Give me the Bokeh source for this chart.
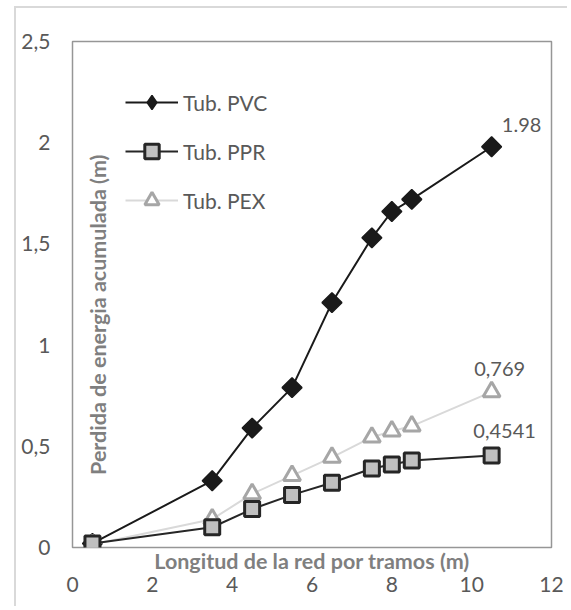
from bokeh.plotting import figure
from bokeh.models import Range1d, FixedTicker, Label, Legend, LegendItem, LinearAxis
from bokeh.core.properties import value
from bokeh.embed import file_html
from bokeh.resources import INLINE
import math

# ---- data ----
longitud = [0.5, 3.5, 4.5, 5.5, 6.5, 7.5, 8.0, 8.5, 10.5]
tub_pvc = [0.02, 0.33, 0.59, 0.79, 1.21, 1.53, 1.66, 1.72, 1.98]
tub_ppr = [0.02, 0.10, 0.19, 0.26, 0.32, 0.39, 0.41, 0.43, 0.4541]
tub_pex = [0.015, 0.14, 0.265, 0.355, 0.445, 0.545, 0.575, 0.60, 0.769]
series_names = ["Tub. PVC", "Tub. PPR", "Tub. PEX"]
end_labels = ["1.98", "0,4541", "0,769"]
x_ticks = [0, 2, 4, 6, 8, 10, 12]
y_ticks = [0, 0.5, 1, 1.5, 2, 2.5]
y_tick_labels = ["0", "0,5", "1", "1,5", "2", "2,5"]
x_title = "Longitud de la red por tramos (m)"
y_title = "Perdida de energia acumulada (m)"

FONT = "Lato"
TICK_COLOR = "#595959"
TITLE_COLOR = "#7f7f7f"

p = figure(width=553, height=600, x_range=Range1d(0, 12), y_range=Range1d(0, 2.5),
           output_backend="svg", toolbar_location=None, x_axis_location=None,
           min_border_left=56, min_border_right=18, min_border_top=33, min_border_bottom=61)
# light gray chart-area border (left and top), as in the original
p.styles = {"margin-left": "14px", "margin-top": "6px",
            "border-left": "2px solid #d9d9d9", "border-top": "2px solid #d9d9d9"}
p.grid.visible = False
p.outline_line_color = "#969696"
p.outline_line_width = 1.5
p.background_fill_color = "white"
p.border_fill_color = "white"

# y axis
p.yaxis.ticker = FixedTicker(ticks=y_ticks)
p.yaxis.major_label_overrides = {t: l for t, l in zip(y_ticks, y_tick_labels)}

# x axis: title sits above the tick labels as in the original
x_title_axis = LinearAxis(ticker=FixedTicker(ticks=[]), axis_label=x_title,
                          axis_label_standoff=0, major_label_standoff=0,
                          axis_label_text_font=FONT, axis_label_text_font_size="21.5px",
                          axis_label_text_font_style="bold", axis_label_text_color=TITLE_COLOR)
p.add_layout(x_title_axis, "below")
x_tick_axis = LinearAxis(ticker=FixedTicker(ticks=x_ticks))
p.add_layout(x_tick_axis, "below")

for ax in (x_title_axis, x_tick_axis, p.yaxis[0]):
    ax.axis_line_color = None
    ax.major_tick_line_color = None
    ax.minor_tick_line_color = None
    ax.major_tick_out = 0
    ax.major_label_text_font = FONT
    ax.major_label_text_font_size = "21px"
    ax.major_label_text_color = TICK_COLOR
x_tick_axis.major_label_standoff = 0
p.yaxis.major_label_standoff = 22

# series
r_pvc_l = p.line(longitud, tub_pvc, line_color="#1a1a1a", line_width=2)
r_pvc_m = p.scatter(longitud, tub_pvc, marker="square", angle=math.pi / 4, size=14,
                    fill_color="#1a1a1a", line_color="#1a1a1a", line_width=1.5)
r_pex_l = p.line(longitud, tub_pex, line_color="#d9d9d9", line_width=2)
r_pex_m = p.scatter(longitud, tub_pex, marker="triangle", size=17,
                    fill_color="white", line_color="#a6a6a6", line_width=3)
r_ppr_l = p.line(longitud, tub_ppr, line_color="#262626", line_width=2)
r_ppr_m = p.scatter(longitud, tub_ppr, marker="square", size=15,
                    fill_color="#c0c0c0", line_color="#262626", line_width=3)
# legend-only diamond marker (not drawn in the plot)
r_pvc_leg = p.scatter(x=[float("nan")], y=[float("nan")], marker="diamond", size=16,
                      fill_color="#1a1a1a", line_color="#1a1a1a", line_width=1.5)

# end value labels
offsets = [(30, -22), (13, -25), (8, -23)]
for ser, lab, (dx, dy) in zip([tub_pvc, tub_ppr, tub_pex], end_labels, offsets):
    p.text(x=[longitud[-1]], y=[ser[-1]], text=[lab], x_offset=dx, y_offset=dy,
           text_align="center", text_baseline="middle",
           text_font=value(FONT), text_font_size="20px", text_color=TICK_COLOR)

# y axis title placed inside the plot area like the original
p.add_layout(Label(x=0.63, y=1.15, text=y_title, angle=math.pi / 2, text_align="center",
                   text_baseline="middle", text_font=FONT, text_font_size="21.5px",
                   text_font_style="bold", text_color=TITLE_COLOR))

legend = Legend(items=[LegendItem(label=series_names[0], renderers=[r_pvc_l, r_pvc_leg]),
                       LegendItem(label=series_names[1], renderers=[r_ppr_l, r_ppr_m]),
                       LegendItem(label=series_names[2], renderers=[r_pex_l, r_pex_m])],
                location=(53, 329), padding=0, margin=0, spacing=13,
                glyph_width=53, glyph_height=36, label_standoff=5,
                label_text_font=FONT, label_text_font_size="21px", label_text_color=TICK_COLOR,
                border_line_color=None, background_fill_alpha=0)
p.add_layout(legend)

open("out.html", "w").write(file_html(p, INLINE))
